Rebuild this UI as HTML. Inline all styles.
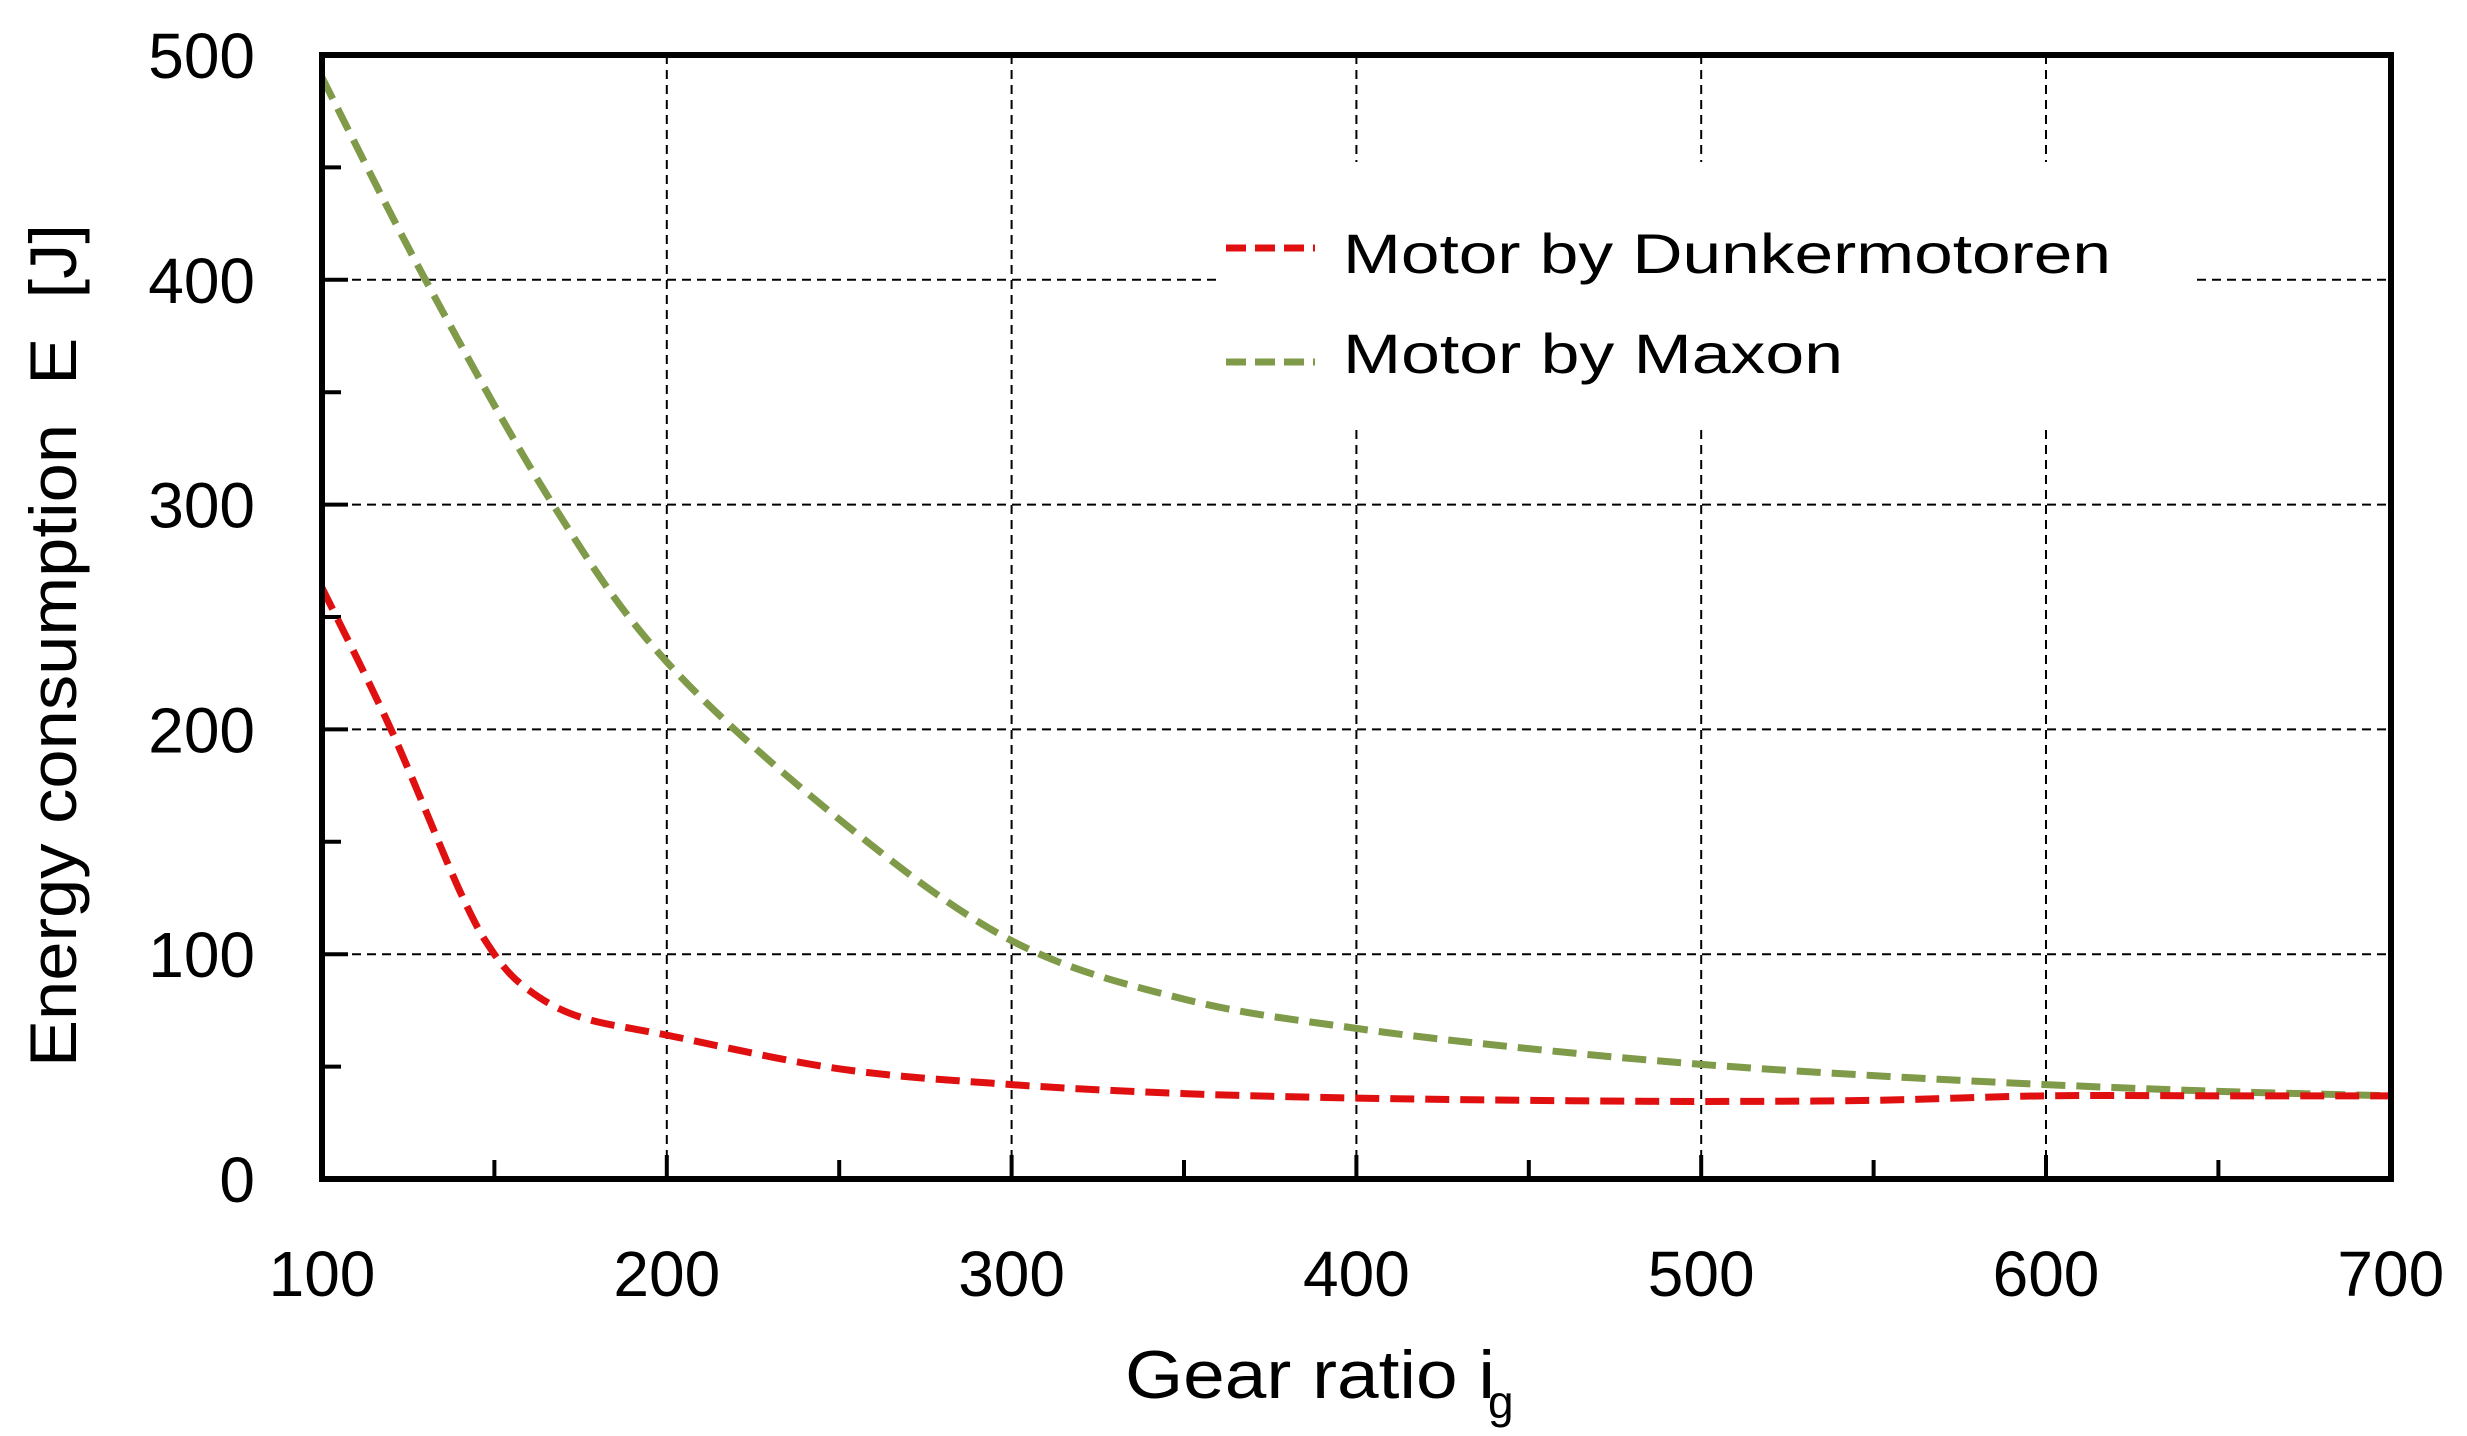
<!DOCTYPE html>
<html><head><meta charset="utf-8"><style>
html,body{margin:0;padding:0;background:#fff;}
svg{display:block;}
text{font-family:"Liberation Sans",sans-serif;fill:#000;}
</style></head><body>
<svg id="s" width="2467" height="1436" viewBox="0 0 2467 1436" xmlns="http://www.w3.org/2000/svg">
<g id="grid" stroke="#000" stroke-width="2" stroke-dasharray="9,6" fill="none"></g>
<rect x="1218" y="162" width="973" height="264" fill="#fff"/>
<g id="ticks" stroke="#000" stroke-width="4"></g>
<path id="green" fill="none" stroke="#7f9a48" stroke-width="7" stroke-dasharray="24,11"/>
<path id="red" fill="none" stroke="#e01010" stroke-width="7" stroke-dasharray="24,11"/>
<rect x="322" y="55" width="2069" height="1124" fill="none" stroke="#000" stroke-width="6"/>
<g id="labels" font-size="64"></g>
<line x1="1226" y1="248" x2="1315" y2="248" stroke="#e01010" stroke-width="7" stroke-dasharray="20,9"/>
<line x1="1226" y1="362" x2="1315" y2="362" stroke="#7f9a48" stroke-width="7" stroke-dasharray="20,9"/>
<text x="1343" y="273" font-size="56" textLength="768" lengthAdjust="spacingAndGlyphs">Motor by Dunkermotoren</text>
<text x="1343" y="373" font-size="56" textLength="500" lengthAdjust="spacingAndGlyphs">Motor by Maxon</text>
<text x="1125" y="1398" font-size="68" textLength="370" lengthAdjust="spacingAndGlyphs">Gear ratio i</text>
<text x="1488" y="1418" font-size="46">g</text>
<text transform="translate(76,1067) rotate(-90)" x="0" y="0" font-size="66" textLength="843" lengthAdjust="spacingAndGlyphs">Energy consumption&#160;&#160;E&#160;&#160;[J]</text>
</svg>
<script>
var X=function(v){return 322+(v-100)*3.448;},Y=function(v){return 1179-v*2.248;};
var ns="http://www.w3.org/2000/svg";
function el(p,t,a,txt){var e=document.createElementNS(ns,t);for(var k in a)e.setAttribute(k,a[k]);if(txt!==undefined)e.textContent=txt;document.getElementById(p).appendChild(e);}
for(var v=200;v<=600;v+=100)el("grid","line",{x1:X(v),y1:55,x2:X(v),y2:1179});
for(var v=100;v<=400;v+=100)el("grid","line",{x1:322,y1:Y(v),x2:2391,y2:Y(v)});
for(var v=150;v<700;v+=50){var m=v%100==0;el("ticks","line",{x1:X(v),y1:1179,x2:X(v),y2:1179-(m?24:19)});}
for(var v=50;v<500;v+=50){var m=v%100==0;el("ticks","line",{x1:322,y1:Y(v),x2:322+(m?26:19),y2:Y(v)});}
for(var v=0;v<=500;v+=100)el("labels","text",{x:255,y:Y(v)+23,"text-anchor":"end"},String(v));
for(var v=100;v<=700;v+=100)el("labels","text",{x:X(v),y:1296,"text-anchor":"middle"},String(v));
function path(pts){var p=pts.map(function(a){return[X(a[0]),Y(a[1])];});var d="M"+p[0][0]+","+p[0][1];
for(var i=0;i<p.length-1;i++){var p0=p[i-1]||p[i],p1=p[i],p2=p[i+1],p3=p[i+2]||p2;
d+=" C"+(p1[0]+(p2[0]-p0[0])/6)+","+(p1[1]+(p2[1]-p0[1])/6)+" "+(p2[0]-(p3[0]-p1[0])/6)+","+(p2[1]-(p3[1]-p1[1])/6)+" "+p2[0]+","+p2[1];}return d;}
document.getElementById("green").setAttribute("d",path([[100,490],[130,400],[167,300],[200,230],[250,160],[300,106],[350,80],[400,67],[450,58],[500,51],[550,46],[600,42],[650,39],[700,37]]));
document.getElementById("red").setAttribute("d",path([[100,263],[120,200],[140,128],[150,100],[160,84],[175,72],[200,64],[250,49],[300,42],[350,38],[400,36],[450,35],[500,34.5],[550,35],[600,37],[650,37],[700,37]]));
</script>
</body></html>
